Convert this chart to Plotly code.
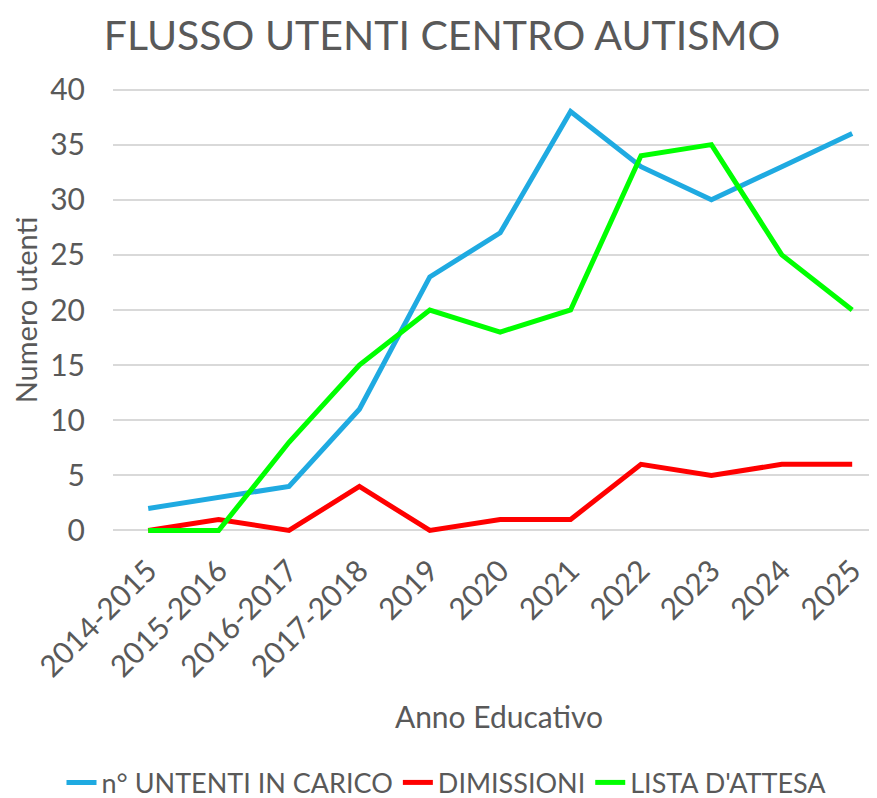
import plotly.graph_objects as go

# Dati
anni = ["2014-2015", "2015-2016", "2016-2017", "2017-2018", "2019", "2020",
        "2021", "2022", "2023", "2024", "2025"]
utenti_in_carico = [2, 3, 4, 11, 23, 27, 38, 33, 30, 33, 36]
dimissioni = [0, 1, 0, 4, 0, 1, 1, 6, 5, 6, 6]
lista_attesa = [0, 0, 8, 15, 20, 18, 20, 34, 35, 25, 20]

GRIGIO = "#595959"
FONT = "Lato"

fig = go.Figure()

fig.add_trace(go.Scatter(x=anni, y=utenti_in_carico, mode="lines",
                         name="n° UNTENTI IN CARICO",
                         line=dict(color="#1FAAE1", width=5)))
fig.add_trace(go.Scatter(x=anni, y=dimissioni, mode="lines",
                         name="DIMISSIONI",
                         line=dict(color="#FF0000", width=5)))
fig.add_trace(go.Scatter(x=anni, y=lista_attesa, mode="lines",
                         name="LISTA D'ATTESA",
                         line=dict(color="#00FF00", width=5)))

fig.update_layout(
    template="none",
    width=877, height=798,
    paper_bgcolor="white", plot_bgcolor="white",
    font=dict(family=FONT, color=GRIGIO, size=27),
    title=dict(text="FLUSSO UTENTI CENTRO AUTISMO", x=0.495, xanchor="center",
               xref="container", yref="container", y=0.965, yanchor="middle",
               font=dict(size=41, color=GRIGIO)),
    margin=dict(l=105, r=0, t=76, b=270, pad=0),
    xaxis=dict(
        type="category", range=[-0.5, 10.466], automargin=False,
        tickangle=-45, showgrid=False, showline=False, zeroline=False, ticks="",
        ticklabelstandoff=10,
        tickfont=dict(size=30),
        title=dict(text="Anno Educativo", font=dict(size=30), standoff=24),
    ),
    yaxis=dict(
        range=[-0.5, 40.5], tickvals=[0, 5, 10, 15, 20, 25, 30, 35, 40],
        automargin=False,
        showgrid=True, gridcolor="#D9D9D9", gridwidth=1.5,
        zeroline=False, showline=False, ticks="",
        ticklabelstandoff=27,
        tickfont=dict(size=30),
        title=dict(text="Numero utenti", font=dict(size=29), standoff=10),
    ),
    showlegend=True,
    legend=dict(orientation="h", x=0.5, xanchor="center", xref="container",
                yref="container", y=0.029, yanchor="middle",
                font=dict(size=27), tracegroupgap=0,
                bgcolor="rgba(0,0,0,0)"),
)

fig.write_html("out.html")
